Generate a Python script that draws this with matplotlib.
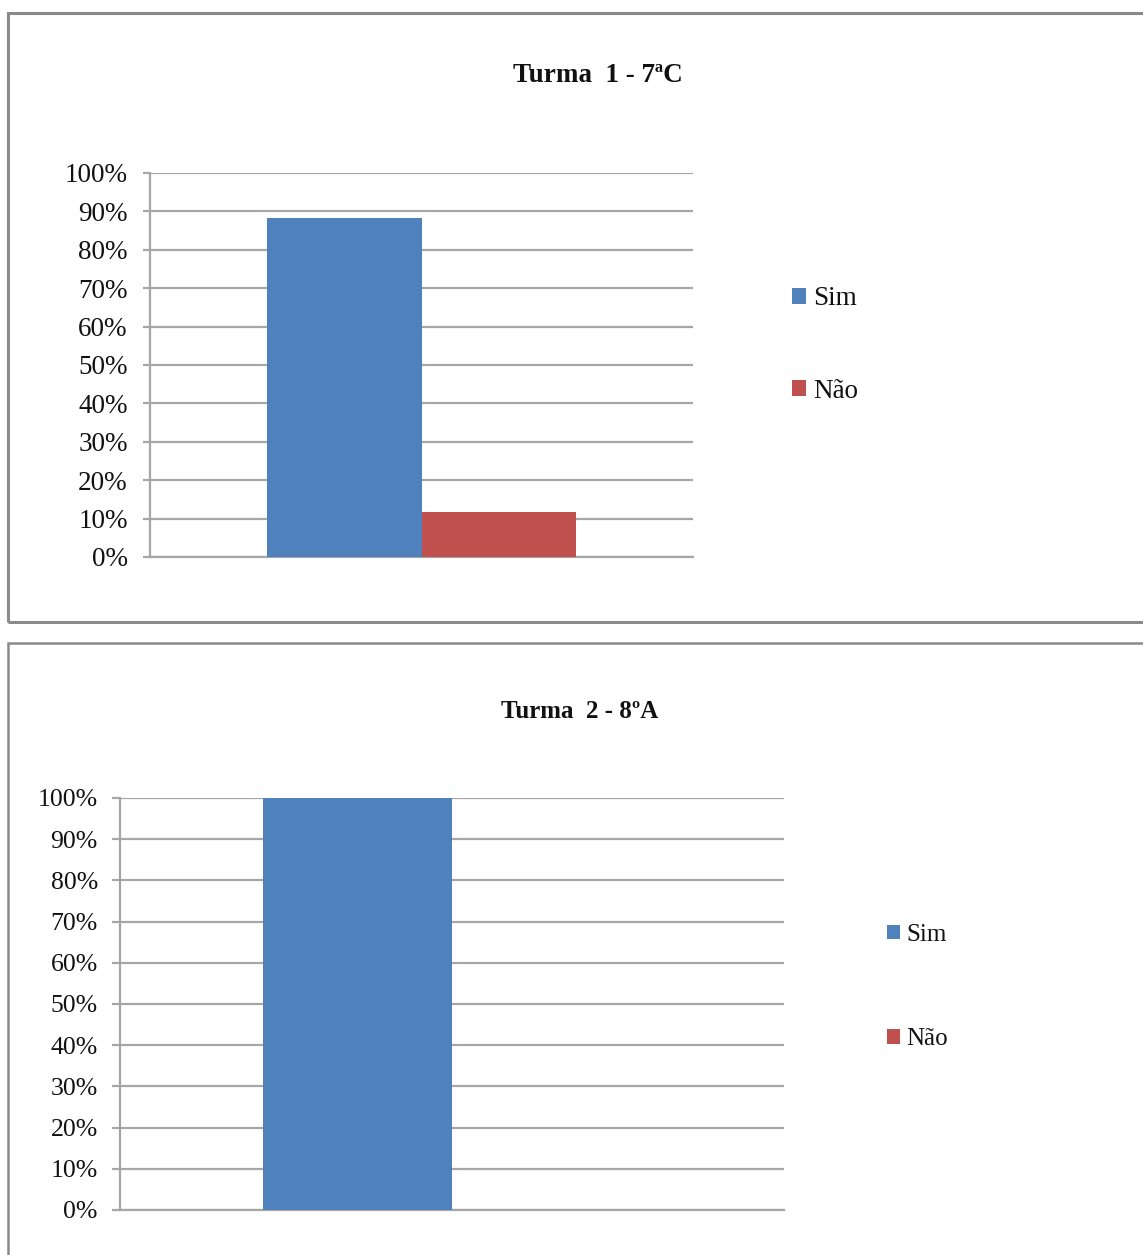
import matplotlib
matplotlib.use("Agg")
import matplotlib.pyplot as plt
from matplotlib.patches import Rectangle

# ---- data ----
series = ["Sim", "Não"]
turma1_values = [88.2, 11.8]
turma2_values = [100.0, 0.0]
titles = ["Turma  1 - 7ªC", "Turma  2 - 8ºA"]
yticks = [0, 10, 20, 30, 40, 50, 60, 70, 80, 90, 100]
ytick_labels = [f"{v}%" for v in yticks]
colors = ["#4F81BD", "#C0504D"]

W, H = 1143, 1255
DPI = 100
plt.rcParams['font.family'] = ['Liberation Serif', 'DejaVu Serif']

fig = plt.figure(figsize=(W / DPI, H / DPI), dpi=DPI)


def frect(x0, y0, x1, y1):
    return [x0 / W, 1 - y1 / H, (x1 - x0) / W, (y1 - y0) / H]


# panel borders
border_col = "#8a8a8a"
fig.patches.append(Rectangle((8 / W, 1 - 622 / H), 1.2, (622 - 13) / H,
                             transform=fig.transFigure, fill=False,
                             edgecolor=border_col, linewidth=2.2))
fig.patches.append(Rectangle((8 / W, -0.2), 1.2, 0.2 + (H - 643) / H,
                             transform=fig.transFigure, fill=False,
                             edgecolor=border_col, linewidth=1.8))

grid_col = "#a6a6a6"
bar_w = 0.285


def draw_panel(rect, values, title, title_xy, title_fs, tick_fs, leg_anchor, leg_fs, leg_space, tick_len, tick_pad):
    ax = fig.add_axes(rect)
    for i, (name, val) in enumerate(zip(series, values)):
        offset = (i - 0.5) * bar_w
        ax.bar([offset], [val], width=bar_w, color=colors[i], label=name, zorder=3)
    ax.set_xlim(-0.5, 0.5)
    ax.set_ylim(0, 100)
    ax.set_yticks(yticks)
    ax.set_yticklabels(ytick_labels, fontsize=tick_fs)
    ax.set_xticks([])
    ax.yaxis.grid(True, color=grid_col, linewidth=1.6, zorder=0)
    ax.set_axisbelow(True)
    for s in ["top", "right"]:
        ax.spines[s].set_visible(False)
    for s in ["left", "bottom"]:
        ax.spines[s].set_color(grid_col)
        ax.spines[s].set_linewidth(1.6)
    ax.tick_params(axis="y", length=tick_len, width=1.6, color=grid_col, pad=tick_pad, labelcolor="#111111")
    fig.text(title_xy[0] / W, 1 - title_xy[1] / H, title, ha="center", va="center",
             fontsize=title_fs, fontweight="bold", color="#111111")
    leg = ax.legend(loc="center left", bbox_to_anchor=(leg_anchor[0] / W, 1 - leg_anchor[1] / H),
                    bbox_transform=fig.transFigure, frameon=False, fontsize=leg_fs,
                    handlelength=0.52, handleheight=0.52, handletextpad=0.25,
                    labelspacing=leg_space, borderpad=0, borderaxespad=0)
    for t in leg.get_texts():
        t.set_color("#111111")
    return ax


draw_panel(frect(150, 173, 693, 557), turma1_values, titles[0], (598, 75), 19.5, 19.5,
           (792, 345), 19.5, 2.48, 5, 11)
draw_panel(frect(120, 798, 784, 1210), turma2_values, titles[1], (580, 712), 18, 18.5,
           (887, 987), 18, 3.3, 5.5, 10.5)

fig.savefig("out.png", dpi=DPI)
